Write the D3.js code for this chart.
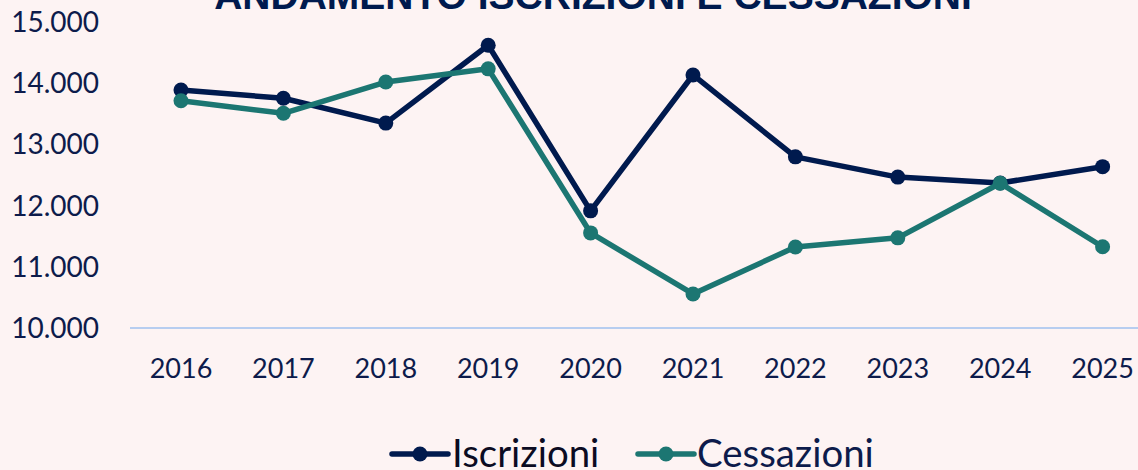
<!DOCTYPE html>
<html>
<head>
<meta charset="utf-8">
<script src="https://cdn.jsdelivr.net/npm/d3@7"></script>
<style>
html,body{margin:0;padding:0;background:#fdf3f3;}
svg{display:block;}
</style>
</head>
<body>
<svg id="chart" width="1138" height="470"></svg>
<script>
const years = ["2016","2017","2018","2019","2020","2021","2022","2023","2024","2025"];
const iscrizioni = [13880,13745,13340,14610,11910,14125,12790,12460,12365,12630];
const cessazioni = [13705,13500,14010,14225,11550,10555,11320,11470,12360,11325];
const yTicks = [10000,11000,12000,13000,14000,15000];
const seriesNames = ["Iscrizioni","Cessazioni"];
const title = "ANDAMENTO ISCRIZIONI E CESSAZIONI";

const colors = ["#001a4e","#1c7672"];
const svg = d3.select("#chart");
const W = 1138, H = 470;
svg.append("rect").attr("width",W).attr("height",H).attr("fill","#fdf3f3");

const x = d3.scaleBand().domain(years).range([129.8,1153.8]).padding(0);
const y = d3.scaleLinear().domain([10000,15000]).range([328,21.3]);
const it = d3.formatLocale({decimal:",",thousands:".",grouping:[3],currency:["€",""]});
const fmt = it.format(",");

// title
svg.append("text").attr("x",593).attr("y",9).attr("text-anchor","middle")
  .attr("font-family","Liberation Sans, Arial, sans-serif").attr("font-weight","bold")
  .attr("font-size",39).attr("fill","#001a4e").text(title);

// y axis labels
const ya = svg.append("g").attr("transform","translate(99,0)")
  .call(d3.axisLeft(y).tickValues(yTicks).tickFormat(fmt).tickSize(0).tickPadding(0));
ya.select(".domain").remove();
ya.selectAll("text").attr("font-family","Lato, sans-serif").attr("font-size",28)
  .attr("fill","#0d1b4b").attr("dy","0.35em");

// x axis
const xa = svg.append("g").attr("transform","translate(0,328)")
  .call(d3.axisBottom(x).tickSize(0).tickPadding(0));
xa.select(".domain").attr("stroke","#b7cdf0").attr("stroke-width",2)
  .attr("d","M130,0H1138");
xa.selectAll("text").attr("font-family","Lato, sans-serif").attr("font-size",27)
  .attr("fill","#0d1b4b").attr("y",41).attr("dy","0.35em");

const cx = d => x(d) + x.bandwidth()/2;
const line = d3.line().x((d,i)=>cx(years[i])).y(d=>y(d));

[iscrizioni,cessazioni].forEach((vals,k)=>{
  svg.append("path").datum(vals).attr("d",line).attr("fill","none")
    .attr("stroke",colors[k]).attr("stroke-width",5.5).attr("stroke-linejoin","round");
  svg.append("g").selectAll("circle").data(vals).join("circle")
    .attr("cx",(d,i)=>cx(years[i])).attr("cy",d=>y(d)).attr("r",7.5).attr("fill",colors[k]);
});

// legend
const leg = [{x1:392,x2:448,tx:452,tc:"#0b0b22"},{x1:638,x2:694,tx:697,tc:"#0d1b4b"}];
leg.forEach((l,k)=>{
  svg.append("line").attr("x1",l.x1).attr("x2",l.x2).attr("y1",454).attr("y2",454)
    .attr("stroke",colors[k]).attr("stroke-width",5.5).attr("stroke-linecap","round");
  svg.append("circle").attr("cx",(l.x1+l.x2)/2).attr("cy",454).attr("r",7.5).attr("fill",colors[k]);
  svg.append("text").attr("x",l.tx).attr("y",467).attr("font-family","Lato, sans-serif")
    .attr("font-size",38.4).attr("fill",l.tc).text(seriesNames[k]);
});
</script>
</body>
</html>
